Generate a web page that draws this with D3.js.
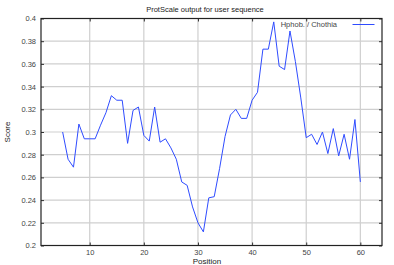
<!DOCTYPE html>
<html><head><meta charset="utf-8">
<script src="https://cdn.jsdelivr.net/npm/d3@7"></script>
<style>
html,body{margin:0;padding:0;background:#fff;}
svg{display:block;font-family:"Liberation Sans",Arial,sans-serif;}
</style></head>
<body><svg id="c" width="394" height="265"></svg>
<script>
const positions = [5,6,7,8,9,10,11,12,13,14,15,16,17,18,19,20,21,22,23,24,25,26,27,28,29,30,31,32,33,34,35,36,37,38,39,40,41,42,43,44,45,46,47,48,49,50,51,52,53,54,55,56,57,58,59,60];
const scores = [0.300,0.276,0.269,0.307,0.294,0.294,0.294,0.306,0.317,0.332,0.328,0.328,0.290,0.319,0.322,0.297,0.292,0.322,0.291,0.294,0.286,0.276,0.256,0.253,0.234,0.220,0.212,0.242,0.243,0.268,0.296,0.315,0.320,0.312,0.312,0.328,0.335,0.373,0.373,0.397,0.358,0.355,0.389,0.362,0.330,0.295,0.298,0.289,0.300,0.281,0.303,0.279,0.298,0.276,0.311,0.256];
const xTicks = [10,20,30,40,50,60];
const yTicks = [0.2,0.22,0.24,0.26,0.28,0.3,0.32,0.34,0.36,0.38,0.4];
const titleText = "ProtScale output for user sequence";
const xLabel = "Position";
const yLabel = "Score";
const seriesName = "Hphob. / Chothia";

const svg = d3.select("#c");
const L = 41, R = 382, T = 18.5, B = 245.5;
const x = d3.scaleLinear().domain([1,64]).range([L,R]);
const y = d3.scaleLinear().domain([0.2,0.4]).range([B,T]);
const fmt = v => String(+v.toFixed(2));

// grid
const g = svg.append("g");
g.selectAll(".gx").data(xTicks).join("line")
  .attr("x1",d=>x(d)).attr("x2",d=>x(d)).attr("y1",T).attr("y2",B)
  .attr("stroke","#cfcfcf").attr("stroke-width",1.2);
g.selectAll(".gy").data(yTicks).join("line")
  .attr("x1",L).attr("x2",R).attr("y1",d=>y(d)).attr("y2",d=>y(d))
  .attr("stroke","#cfcfcf").attr("stroke-width",1.2);

// axes
const tickColor = "#333";
function style(sel){
  sel.select(".domain").remove();
  sel.selectAll("line").attr("stroke",tickColor);
  sel.selectAll("text").attr("fill","#444").style("font-size","7.5px");
}
svg.append("g").attr("transform",`translate(${L},0)`)
  .call(d3.axisLeft(y).tickValues(yTicks).tickFormat(fmt).tickSize(-3).tickPadding(5)).call(style);
svg.append("g").attr("transform",`translate(${R},0)`)
  .call(d3.axisRight(y).tickValues(yTicks).tickFormat("").tickSize(-3)).call(style);
svg.append("g").attr("transform",`translate(0,${B})`)
  .call(d3.axisBottom(x).tickValues(xTicks).tickFormat(d3.format("d")).tickSize(-3).tickPadding(4)).call(style);
svg.append("g").attr("transform",`translate(0,${T})`)
  .call(d3.axisTop(x).tickValues(xTicks).tickFormat("").tickSize(-3)).call(style);

// frame
svg.append("rect").attr("x",L).attr("y",T).attr("width",R-L).attr("height",B-T)
  .attr("fill","none").attr("stroke","#222").attr("stroke-width",1.2);

// line
const line = d3.line().x((d,i)=>x(positions[i])).y(d=>y(d));
svg.append("path").datum(scores).attr("d",line)
  .attr("fill","none").attr("stroke","#2f4cff").attr("stroke-width",1);

// legend
svg.append("text").attr("x",337).attr("y",27.3).attr("text-anchor","end")
  .attr("fill","#444").style("font-size","7.5px").text(seriesName);
svg.append("line").attr("x1",352.5).attr("x2",374.5).attr("y1",24.5).attr("y2",24.5)
  .attr("stroke","#2f4cff").attr("stroke-width",1);

// titles
svg.append("text").attr("x",205).attr("y",12).attr("text-anchor","middle")
  .attr("fill","#222").style("font-size","7.5px").text(titleText);
svg.append("text").attr("x",207).attr("y",263.5).attr("text-anchor","middle")
  .attr("fill","#222").style("font-size","8px").text(xLabel);
svg.append("text").attr("transform","translate(10,132) rotate(-90)").attr("text-anchor","middle")
  .attr("fill","#222").style("font-size","8px").text(yLabel);
</script></body></html>
